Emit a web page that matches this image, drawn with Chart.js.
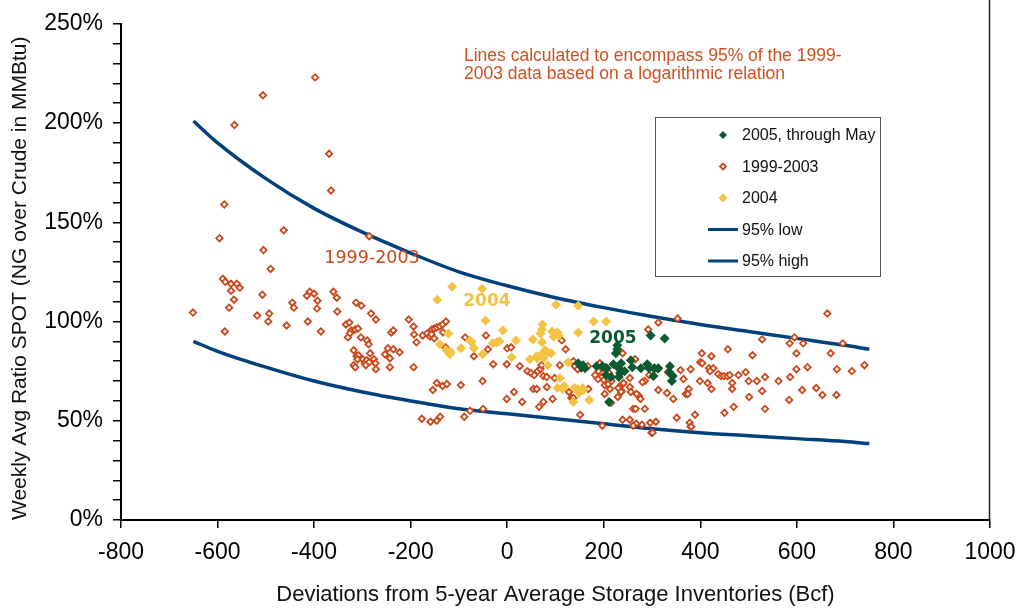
<!DOCTYPE html>
<html>
<head>
<meta charset="utf-8">
<script src="https://cdn.jsdelivr.net/npm/chart.js@4.4.1/dist/chart.umd.min.js"></script>
<style>
  html, body { margin: 0; padding: 0; background: #fff; }
</style>
</head>
<body>
<canvas id="storageChart" width="1020" height="609"></canvas>
<script>
// 1999-2003 weekly points [deviation Bcf, ratio %]
const hist = [
  [-398,223],[-506,214],[-565,199],[-369,184.5],[-365,166],[-586,159],[-463,146],[-596,142],[-286,143],[-505,136],[-490,126.5],
  [-589,121.5],[-584,120],[-572,119],[-560,119],[-554,117],[-572,115.5],[-566,111],[-576,107],[-651,104.5],[-585,95],
  [-507,113.5],[-518,103],[-493,104],[-495,100],[-457,98],[-445,109.5],[-442,107],[-415,113],[-409,115],[-400,114],[-393,110.5],[-394,106.5],[-413,100],[-386,95],
  [-360,115],[-353,112],[-352,105],[-313,109.5],[-302,108],[-282,104],[-272,101],
  [-334,98.5],[-327,99.5],[-323,95.5],[-315,96],[-309,96.5],[-326,94],[-330,92],[-303,92],[-290,90.5],[-287,88.5],
  [-318,85.5],[-312,82.5],[-308,83],[-310,81],[-318,78],[-315,77],[-299,81],[-295,79],[-291,80.5],[-286,79.5],[-293,78],[-284,84],[-276,81],[-273,79],[-272,76],
  [-247,86.5],[-236,86],[-253,83.5],[-243,81.5],[-223,84.5],[-243,77],[-204,101],[-194,97.5],[-193,93.5],[-188,89.5],[-194,77],[-240,94.5],[-236,95.5],
  [-175,93],[-166,94],[-160,92.5],[-156,96],[-151,96.5],[-146,97],[-140,97.5],[-134,98.5],[-127,100],[-157,93.5],[-133,94.5],[-151,91.5],
  [-128,87],[-87,92],[-69,82.5],[-44,93],[-40,86],[-29,78.5],[-51,70],
  [-146,69],[-134,67.5],[-125,68.5],[-154,65.5],[-96,68],[-77,55],[-89,52],[-139,52],[-146,50],[-159,49.5],[-177,51],[-50,56],
  [0,86.5],[8,87],[-1,78.5],[26,77.5],[42,75],[49,74],[56,73],[63,75],[69,76],[71,78],[75,72.5],[82,72],[98,71.5],[113,90.5],[121,86],[109,78],
  [54,66],[61,66],[82,67],[-1,61],[14,64.5],[31,59.5],[66,57],[75,59.5],[94,61],[128,64.5],[133,61.5],[151,53],[168,66],[142,78.5],[153,76.5],[137,80],[197,47.5],
  [182,73],[189,75],[192,79],[196,72],[200,70.5],[206,75],[211,74],[188,71],
  [202,68],[213,66],[216,70],[202,63.5],[229,62],[215,59],[234,67.5],[237,65],[239,68.5],[254,71.5],[265,81],[273,62.5],[276,61],[285,70],[294,73],
  [303,76.5],[312,76],[313,65.5],[331,64],[344,61],[359,75.5],[365,71],[370,63.5],[376,66],[380,76],[389,53],[378,49],[380,47],[351,51.5],[308,49.5],
  [299,44],[279,48],[267,48.5],[254,50.5],[239,50.5],[261,56],[285,56],[292,96],[313,99.5],[353,101.5],[239,84],
  [140,77.5],[146,76],[167,77.5],[203,77],[209,68.5],[241,69],[254,67],[256,64.5],[230,66.5],[236,64.5],[268,63.5],[266,56],[280,69.5],[333,74.5],[374,63.5],[137,61.5],[261,47.5],[296,49],
  [403,84],[400,79.5],[404,79],[423,82.5],[418,76.5],[427,76.5],[399,70],[415,69],[423,66],[381,47],
  [663,104],[595,92],[585,89],[613,89],[695,89],[528,91],[457,86],[508,83],[599,84],[670,84],[740,78],[714,75],[683,76],[622,77],[599,76],
  [420,75],[437,73.5],[443,72.5],[449,72.5],[456,72.5],[461,73],[479,73],[494,74.5],[466,69],[466,66],[500,70],[517,70],[534,72],[562,70],[586,72],
  [528,65],[501,62],[611,65.5],[640,66.5],[653,63],[682,63],[584,60.5],[534,56],[469,57],[450,54],[301,44]
];

// 2004 weekly points
const y2004 = [
  [-114,117.5],[-52,116.5],[-145,111],[101,108.5],[147,108],[-45,100.5],[179,100],[205,100],[-9,95.5],[-122,94],
  [73,98.5],[72,96],[69,94],[93,95],[99,94],[104,94.5],[96,92.5],[107,93],[147,94.5],[53,91],[72,89.5],[18,90.5],
  [-77,90.5],[-74,89.5],[-30,89],[-22,89.5],[-16,90],[-139,88.5],[-126,85.5],[-119,83.5],[-117,84.5],[-96,86.5],[-69,86.5],[-51,83.5],
  [9,82],[47,81],[61,82.5],[72,83.5],[78,85.5],[84,84.5],[91,84],[62,81.5],[75,81.5],[84,78],[126,79.5],
  [109,71.5],[118,67.5],[104,66.5],[115,66],[139,66.5],[146,66],[156,66.5],[158,65.5],[137,59.5],[170,60.5],[149,64]
];

// 2005 weekly points, through May
const y2005 = [
  [297,93],[326,91.5],[228,88],[228,86],[225,84],[147,79],[154,77],[157,78],[161,76.5],[185,77.5],[197,77.5],[206,76.5],
  [205,73],[215,72],[220,78.5],[231,76.5],[236,79],[234,74],[231,72],[243,75],[211,59.5],[256,80.5],[259,77],
  [277,76.5],[290,78.5],[294,76.5],[305,76.5],[313,76.5],[303,72.5],[337,77.5],[336,74.5],[343,72.5],[341,70]
];

// 95% band lines
const bandX = [-650, -600, -500, -400, -300, -200, -100, 0, 100, 200, 300, 400, 500, 600, 700, 750];
const bandLow = [90, 85, 77, 70, 64.5, 60, 56, 53.5, 51, 48.5, 46, 44, 42.5, 41, 39.5, 38.5];
const bandHigh = [201, 190, 172, 157, 145, 134.5, 125, 118, 112, 107, 102.5, 98.5, 95, 91.5, 88, 86];

const xTicks = [-800, -600, -400, -200, 0, 200, 400, 600, 800, 1000];

const RED = '#cb481b';
const YELLOW = '#f5c344';
const GREEN = '#0b5a32';
const BLUE = '#00407b';
const FONT = "'Liberation Sans', Arial, sans-serif";

const toPts = arr => arr.map(p => ({ x: p[0], y: p[1] }));
const band = vals => bandX.map((x, i) => ({ x: x, y: vals[i] }));

// labels, legend box, note text and right frame line
const extras = {
  id: 'extras',
  afterDraw(chart) {
    const ctx = chart.ctx;
    const xs = chart.scales.x, ys = chart.scales.y;
    const area = chart.chartArea;
    ctx.save();

    // right frame
    ctx.strokeStyle = '#222';
    ctx.lineWidth = 1.5;
    ctx.beginPath();
    ctx.moveTo(area.right - 0.5, 0);
    ctx.lineTo(area.right - 0.5, area.bottom);
    ctx.stroke();

    // group labels
    ctx.textAlign = 'center';
    ctx.textBaseline = 'middle';
    ctx.font = "17.5px 'DejaVu Sans', sans-serif";
    ctx.fillStyle = RED;
    ctx.fillText('1999-2003', xs.getPixelForValue(-280), ys.getPixelForValue(132));
    ctx.font = "bold 17px 'DejaVu Sans', sans-serif";
    ctx.fillStyle = YELLOW;
    ctx.fillText('2004', xs.getPixelForValue(-42), ys.getPixelForValue(110));
    ctx.fillStyle = GREEN;
    ctx.fillText('2005', xs.getPixelForValue(219), ys.getPixelForValue(91.5));

    // note
    ctx.textAlign = 'left';
    ctx.textBaseline = 'alphabetic';
    ctx.font = '17.5px ' + FONT;
    ctx.fillStyle = '#d0501f';
    ctx.fillText('Lines calculated to encompass 95% of the 1999-', 464, 61);
    ctx.fillText('2003 data based on a logarithmic relation', 464, 79);

    // legend
    const bx = 655, by = 117, bw = 225, bh = 159;
    ctx.fillStyle = '#fff';
    ctx.fillRect(bx, by, bw, bh);
    ctx.strokeStyle = '#555';
    ctx.lineWidth = 1;
    ctx.strokeRect(bx + 0.5, by + 0.5, bw, bh);
    const ds = chart.data.datasets;
    ctx.font = '16px ' + FONT;
    ctx.textBaseline = 'middle';
    [0, 1, 2, 3, 4].forEach((di, i) => {
      const d = ds[di];
      const cy = 135 + i * 31.5;
      const cx = 723;
      if (d.showLine) {
        ctx.strokeStyle = d.borderColor;
        ctx.lineWidth = 3;
        ctx.beginPath();
        ctx.moveTo(708, cy);
        ctx.lineTo(738, cy);
        ctx.stroke();
      } else {
        const r = d.legendRadius;
        ctx.beginPath();
        ctx.moveTo(cx - r, cy);
        ctx.lineTo(cx, cy - r);
        ctx.lineTo(cx + r, cy);
        ctx.lineTo(cx, cy + r);
        ctx.closePath();
        ctx.fillStyle = d.backgroundColor;
        ctx.fill();
        if (d.borderWidth) {
          ctx.strokeStyle = d.borderColor;
          ctx.lineWidth = d.borderWidth;
          ctx.stroke();
        }
      }
      ctx.fillStyle = '#111';
      ctx.fillText(d.label, 742, cy + 1);
    });
    ctx.restore();
  }
};

const ctx1 = document.getElementById('storageChart').getContext('2d');
new Chart(ctx1, {
  type: 'scatter',
  data: {
    datasets: [
      {
        label: '2005, through May',
        data: toPts(y2005),
        pointStyle: 'rectRot',
        pointRadius: 5,
        backgroundColor: GREEN,
        borderColor: GREEN,
        borderWidth: 0,
        legendRadius: 4,
        order: 1
      },
      {
        label: '1999-2003',
        data: toPts(hist),
        pointStyle: 'rectRot',
        pointRadius: 3.2,
        backgroundColor: '#fff',
        borderColor: RED,
        borderWidth: 1.8,
        legendRadius: 3,
        order: 3
      },
      {
        label: '2004',
        data: toPts(y2004),
        pointStyle: 'rectRot',
        pointRadius: 5,
        backgroundColor: YELLOW,
        borderColor: YELLOW,
        borderWidth: 0,
        legendRadius: 4.5,
        order: 2
      },
      {
        label: '95% low',
        data: band(bandLow),
        showLine: true,
        pointRadius: 0,
        borderColor: BLUE,
        borderWidth: 3.5,
        cubicInterpolationMode: 'monotone',
        order: 4
      },
      {
        label: '95% high',
        data: band(bandHigh),
        showLine: true,
        pointRadius: 0,
        borderColor: BLUE,
        borderWidth: 3.5,
        cubicInterpolationMode: 'monotone',
        order: 4
      }
    ]
  },
  options: {
    responsive: false,
    devicePixelRatio: 1,
    animation: false,
    layout: { padding: { top: 20, right: 30, left: 0, bottom: 0 } },
    plugins: {
      legend: { display: false },
      tooltip: { enabled: false }
    },
    scales: {
      x: {
        type: 'linear',
        min: -800,
        max: 1000,
        afterFit(scale) {
          scale.height = 89;
          scale.paddingLeft = 0;
          scale.paddingRight = 0;
        },
        afterBuildTicks(scale) { scale.ticks = xTicks.map(v => ({ value: v })); },
        ticks: {
          color: '#000',
          font: { family: FONT, size: 23 },
          padding: 11,
          autoSkip: false,
          maxRotation: 0,
          callback: v => String(v)
        },
        grid: { drawOnChartArea: false, color: '#000', tickLength: 8, lineWidth: 1.5 },
        border: { color: '#000', width: 2 },
        title: {
          display: true,
          text: 'Deviations from 5-year Average Storage Inventories (Bcf)',
          color: '#111',
          font: { family: FONT, size: 22 },
          padding: { top: 0, bottom: 1 }
        }
      },
      y: {
        min: 0,
        max: 250,
        afterFit(scale) { scale.width = 121; },
        ticks: {
          stepSize: 10,
          autoSkip: false,
          color: '#000',
          font: { family: FONT, size: 23 },
          padding: 10,
          callback: v => (v % 50 === 0 ? v + '%' : '')
        },
        grid: { drawOnChartArea: false, color: '#000', tickLength: 8, lineWidth: 1.5 },
        border: { color: '#000', width: 2 },
        title: {
          display: true,
          text: 'Weekly Avg Ratio SPOT (NG over Crude in MMBtu)',
          color: '#111',
          align: 'start',
          font: { family: FONT, size: 21 },
          padding: { top: 8, bottom: 0 }
        }
      }
    }
  },
  plugins: [extras]
});
</script>
</body>
</html>
